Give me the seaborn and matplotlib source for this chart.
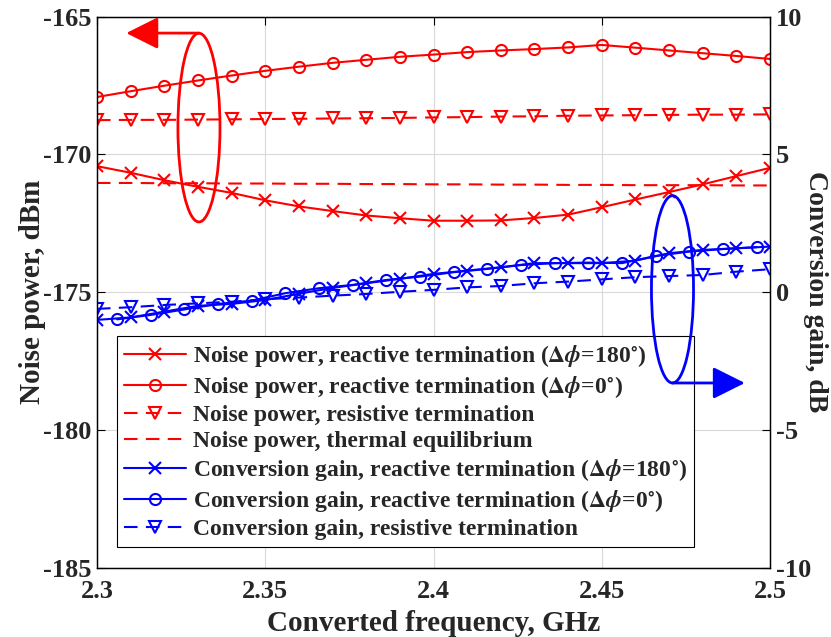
import matplotlib
matplotlib.use('Agg')
import matplotlib.pyplot as plt
from matplotlib.patches import Ellipse
import seaborn as sns

# frequency grid (GHz)
freq = [2.30, 2.31, 2.32, 2.33, 2.34, 2.35, 2.36, 2.37, 2.38, 2.39, 2.40,
        2.41, 2.42, 2.43, 2.44, 2.45, 2.46, 2.47, 2.48, 2.49, 2.50]
# the phi=0 gain curve is sampled slightly offset
freq_gain0 = [2.306, 2.316, 2.326, 2.336, 2.346, 2.356, 2.366, 2.376, 2.386, 2.396,
              2.406, 2.416, 2.426, 2.436, 2.446, 2.456, 2.466, 2.476, 2.486, 2.496]

# noise power, dBm
noise_180 = [-170.43, -170.67, -170.94, -171.18, -171.40, -171.67, -171.89, -172.06, -172.22, -172.32, -172.41,
             -172.41, -172.40, -172.31, -172.19, -171.92, -171.64, -171.37, -171.09, -170.79, -170.49]
noise_0 = [-167.92, -167.71, -167.51, -167.32, -167.14, -166.97, -166.82, -166.68, -166.57, -166.46, -166.38,
           -166.29, -166.23, -166.18, -166.12, -166.03, -166.13, -166.23, -166.33, -166.43, -166.54]
noise_res = [-168.76, -168.75, -168.75, -168.74, -168.73, -168.72, -168.71, -168.70, -168.69, -168.68, -168.66,
             -168.65, -168.63, -168.62, -168.60, -168.59, -168.58, -168.57, -168.56, -168.56, -168.55]
noise_thermal = [-171.04, -171.04, -171.05, -171.05, -171.06, -171.06, -171.07, -171.07, -171.08, -171.08, -171.09,
                 -171.09, -171.10, -171.10, -171.11, -171.11, -171.12, -171.12, -171.12, -171.13, -171.13]

# conversion gain, dB
gain_180 = [-1.01, -0.92, -0.71, -0.50, -0.43, -0.29, -0.06, 0.15, 0.32, 0.48, 0.66,
            0.78, 0.90, 1.05, 1.05, 1.05, 1.14, 1.41, 1.53, 1.59, 1.65]
gain_0 = [-0.99, -0.83, -0.63, -0.43, -0.31, -0.04, 0.14, 0.26, 0.44, 0.56,
          0.72, 0.84, 0.98, 1.05, 1.07, 1.05, 1.31, 1.47, 1.56, 1.63]
gain_res = [-0.61, -0.55, -0.47, -0.41, -0.35, -0.26, -0.20, -0.13, -0.07, 0.01, 0.08,
            0.17, 0.22, 0.32, 0.38, 0.46, 0.54, 0.58, 0.62, 0.74, 0.83]

labels = [
    r'Noise power, reactive termination ($\Delta\phi$=180$^{\circ}$)',
    r'Noise power, reactive termination ($\Delta\phi$=0$^{\circ}$)',
    'Noise power, resistive termination',
    'Noise power, thermal equilibrium',
    r'Conversion gain, reactive termination ($\Delta\phi$=180$^{\circ}$)',
    r'Conversion gain, reactive termination ($\Delta\phi$=0$^{\circ}$)',
    'Conversion gain, resistive termination',
]

sns.set_theme(style='white')
plt.rcParams['font.family'] = ['Liberation Serif', 'DejaVu Serif']
plt.rcParams['font.weight'] = 'bold'
plt.rcParams['axes.labelweight'] = 'bold'
plt.rcParams['axes.unicode_minus'] = False
plt.rcParams['mathtext.fontset'] = 'stix'
plt.rcParams['xtick.direction'] = 'in'
plt.rcParams['ytick.direction'] = 'in'

RED = '#ff0000'
BLUE = '#0000ff'
LW = 1.5
DASH = (0, (6.5, 4))


def style(color):
    return dict(color=color, lw=LW, markersize=8, mew=1.5, mec=color, markerfacecolor='none')


fig = plt.figure(figsize=(8.31, 6.37), dpi=100)
ax = fig.add_axes([0.1167, 0.109, 0.81, 0.865])
ax2 = ax.twinx()

sns.lineplot(x=freq, y=noise_180, ax=ax, marker='x', **style(RED))
sns.lineplot(x=freq, y=noise_0, ax=ax, marker='o', **style(RED))
sns.lineplot(x=freq, y=noise_res, ax=ax, marker='v', linestyle=DASH, **style(RED))
sns.lineplot(x=freq, y=noise_thermal, ax=ax, linestyle=DASH, **style(RED))

sns.lineplot(x=freq, y=gain_180, ax=ax2, marker='x', **style(BLUE))
sns.lineplot(x=freq_gain0, y=gain_0, ax=ax2, marker='o', **style(BLUE))
sns.lineplot(x=freq, y=gain_res, ax=ax2, marker='v', linestyle=DASH, **style(BLUE))

ax.set_xlim(2.3, 2.5)
ax.set_ylim(-185, -165)
ax2.set_ylim(-10, 10)
ax.set_xticks([2.3, 2.35, 2.4, 2.45, 2.5])
ax.set_xticklabels(['2.3', '2.35', '2.4', '2.45', '2.5'])
ax.set_yticks([-185, -180, -175, -170, -165])
ax2.set_yticks([-10, -5, 0, 5, 10])

ax.grid(True, color='#d9d9d9', lw=0.8)
ax.tick_params(axis='both', labelsize=19, length=6, width=0.8, color='black',
               top=True, pad=4)
ax.tick_params(axis='x', pad=9)
ax2.tick_params(axis='y', labelsize=19, length=6, width=0.8, color='black', pad=4)
for a in (ax, ax2):
    for s in a.spines.values():
        s.set_color('black')
        s.set_linewidth(0.9)

ax.set_xlabel('Converted frequency, GHz', fontsize=21, fontweight='bold', labelpad=5)
ax.set_ylabel('Noise power, dBm', fontsize=21, fontweight='bold', labelpad=-2)
ax2.set_ylabel('Conversion gain, dB', fontsize=20, fontweight='bold', rotation=270, labelpad=12)

# legend with all series
handles = ax.get_lines()[:4] + ax2.get_lines()[:3]
leg = ax2.legend(handles, labels, loc='upper left', bbox_to_anchor=(0.03, 0.42),
                 borderaxespad=0, fontsize=17, frameon=True, fancybox=False,
                 edgecolor='black', framealpha=1, handlelength=2.6,
                 handletextpad=0.3, labelspacing=0.2, borderpad=0.3, numpoints=1)
leg.get_frame().set_linewidth(0.8)
leg.set_zorder(5)

# red ellipse + arrow pointing to left axis
ax.add_patch(Ellipse((2.3303, -169.03), 0.0125, 6.85, fill=False, edgecolor=RED, lw=2, zorder=6))
ax.annotate('', xy=(2.3087, -165.6), xytext=(2.3303, -165.6),
            arrowprops=dict(arrowstyle='-|>,head_length=0.9,head_width=0.45', color=RED, lw=2,
                            shrinkA=0, shrinkB=0, mutation_scale=22))

# blue ellipse + arrow pointing to right axis
ax2.add_patch(Ellipse((2.471, 0.1), 0.0125, 6.8, fill=False, edgecolor=BLUE, lw=2, zorder=6))
ax2.annotate('', xy=(2.4925, -3.3), xytext=(2.471, -3.3), zorder=7,
             arrowprops=dict(arrowstyle='-|>,head_length=0.9,head_width=0.45', color=BLUE, lw=2,
                             shrinkA=0, shrinkB=0, mutation_scale=22))

fig.savefig('out.png', dpi=100)
